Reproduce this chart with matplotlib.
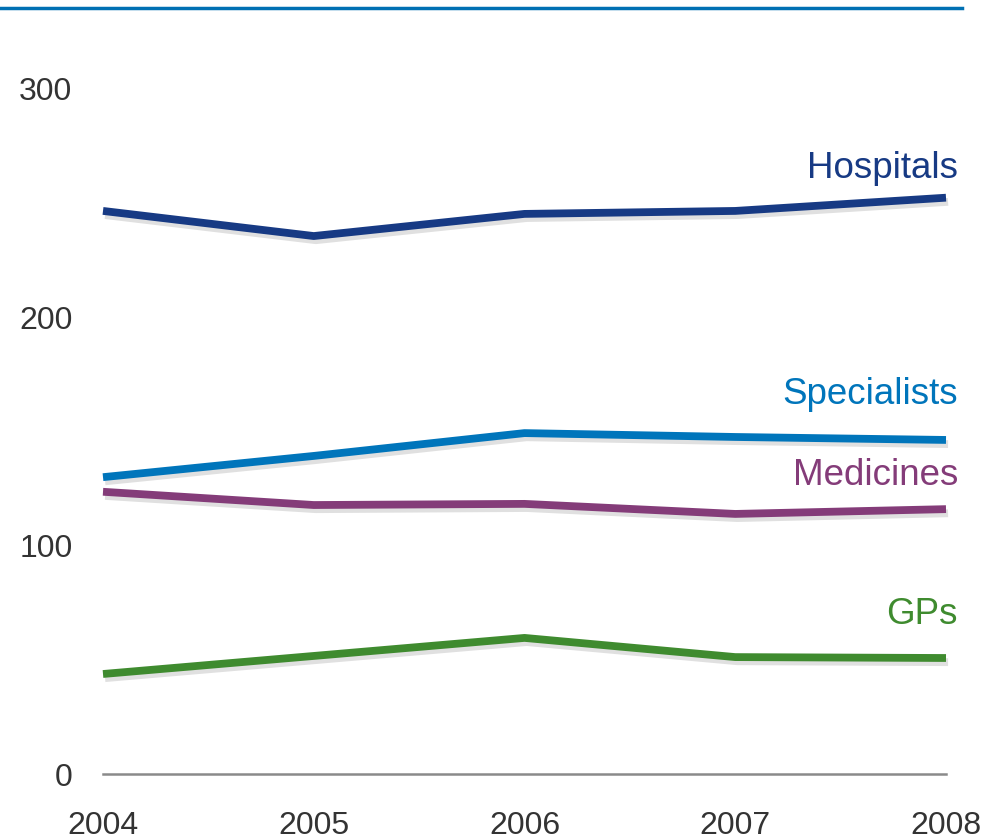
import matplotlib
matplotlib.use("Agg")
import matplotlib.pyplot as plt
import matplotlib.patheffects as pe
from matplotlib.lines import Line2D

plt.rcParams['font.family'] = ['Liberation Sans', 'DejaVu Sans']

years = [2004, 2005, 2006, 2007, 2008]
hospitals = [246.6, 235.6, 245.3, 246.6, 252.4]
specialists = [130.0, 139.3, 149.3, 147.6, 146.3]
medicines = [123.6, 117.8, 118.3, 113.9, 116.0]
gps = [43.8, 51.7, 59.6, 51.2, 50.8]

series = [
    ("Hospitals", hospitals, "#173a84", 168),
    ("Specialists", specialists, "#0075bb", 395),
    ("Medicines", medicines, "#843c79", 475),
    ("GPs", gps, "#3f8b2f", 614),
]

fig = plt.figure(figsize=(9.94, 8.36), dpi=100)
ax = fig.add_axes([103 / 994, 62 / 836, 843 / 994, 685 / 836])

shadow = [pe.SimpleLineShadow(offset=(1.5, -3), shadow_color="#999999", alpha=0.3),
          pe.Normal()]

for name, vals, color, label_y in series:
    ax.plot(years, vals, color=color, lw=5.6, solid_capstyle="butt",
            clip_on=False, path_effects=shadow)
    fig.text(958 / 994, 1 - label_y / 836, name, color=color, fontsize=26.5,
             ha="right", va="center")

ax.set_xlim(2004, 2008)
ax.set_ylim(0, 300)
ax.set_yticks([0, 100, 200, 300])
ax.set_xticks(years)
ax.tick_params(axis="both", length=0, labelsize=23, colors="#333333")
ax.tick_params(axis="y", pad=22)
ax.tick_params(axis="x", pad=27)

for side in ["top", "right", "left"]:
    ax.spines[side].set_visible(False)
ax.spines["bottom"].set_color("#8a8a8a")
ax.spines["bottom"].set_linewidth(1.8)

# blue rule at the top of the slide
fig.add_artist(Line2D([0, 962 / 994], [1 - 8 / 836, 1 - 8 / 836],
                      color="#0070b3", lw=2.5, transform=fig.transFigure))

fig.savefig("out.png", dpi=100, facecolor="white")
